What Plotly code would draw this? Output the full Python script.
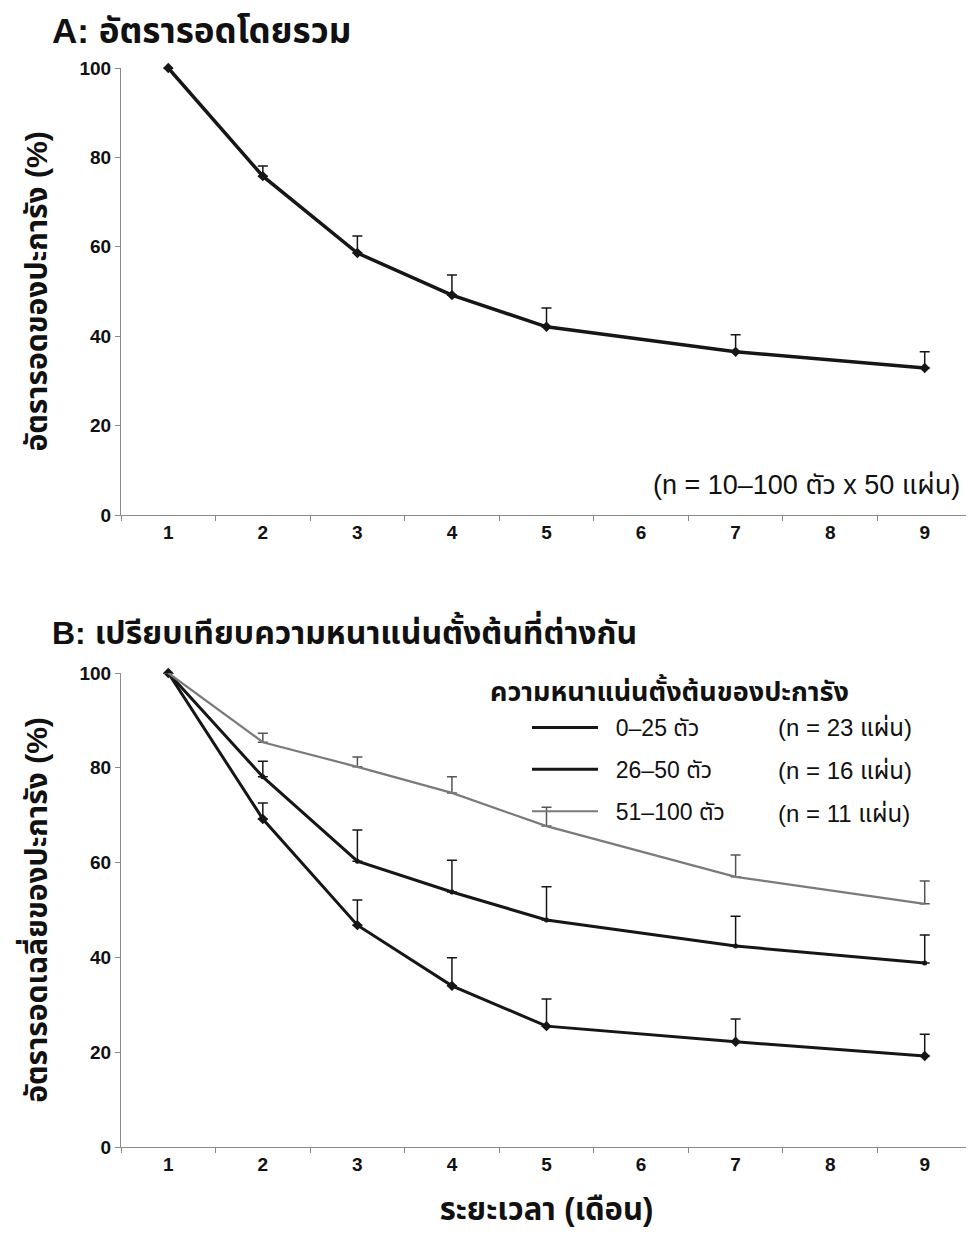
import plotly.graph_objects as go

months = ["1", "2", "3", "4", "5", "6", "7", "8", "9"]
obs_months = ["1", "2", "3", "4", "5", "7", "9"]

# Panel A: overall survival
overall = [100, 75.8, 58.6, 49.2, 42.1, 36.5, 32.9]
overall_err = [0, 2.3, 3.8, 4.5, 4.2, 3.8, 3.6]

# Panel B: by initial density
dens_names = ["0–25 ตัว", "26–50 ตัว", "51–100 ตัว"]
dens_n = ["(n = 23 แผ่น)", "(n = 16 แผ่น)", "(n = 11 แผ่น)"]
d_low = [100, 69.2, 46.8, 34.0, 25.5, 22.2, 19.2]
d_low_err = [0, 3.4, 5.3, 5.9, 5.7, 4.8, 4.6]
d_mid = [100, 78.1, 60.3, 53.8, 47.9, 42.4, 38.8]
d_mid_err = [0, 3.3, 6.6, 6.7, 7.0, 6.3, 5.9]
d_high = [100, 85.4, 80.2, 74.7, 67.7, 57.0, 51.3]
d_high_err = [0, 1.9, 2.1, 3.4, 4.0, 4.6, 4.8]

FONT = "Liberation Sans, Arial, Noto Sans Thai, Loma, Garuda, sans-serif"
DARK = "#161616"
GREY = "#7a7a7a"

# page has an 8px body margin; figure sized to fit the window
OFF = 8
W, H = 974 - OFF, 1246 - OFF


def px(x):
    return (x - OFF) / W


def py(y):
    return 1 - (y - OFF) / H


fig = go.Figure()


def err(vals, color, thick=1.5):
    return dict(type="data", array=vals, arrayminus=[0] * len(vals), symmetric=False,
                color=color, thickness=thick, width=5)


# Panel A
fig.add_trace(go.Scatter(x=obs_months, y=overall, mode="lines+markers", xaxis="x", yaxis="y",
                         line=dict(color=DARK, width=3.5), marker=dict(symbol="diamond", size=8, color=DARK),
                         error_y=err(overall_err, DARK), showlegend=False, cliponaxis=False))

# Panel B
series = [(d_low, d_low_err, DARK, 3, "diamond", 8),
          (d_mid, d_mid_err, DARK, 3, "circle", 5),
          (d_high, d_high_err, GREY, 2.2, None, 0)]
for i, (vals, e, col, w, sym, ms) in enumerate(series):
    fig.add_trace(go.Scatter(x=obs_months, y=vals, mode="lines", xaxis="x2", yaxis="y2",
                             name="\u00a0\u00a0" + dens_names[i], legendgroup="g%d" % i,
                             line=dict(color=col, width=w), error_y=err(e, DARK if i < 2 else "#555", 1.5),
                             cliponaxis=False, showlegend=True))
    if sym:
        fig.add_trace(go.Scatter(x=obs_months, y=vals, mode="markers", xaxis="x2", yaxis="y2",
                                 marker=dict(symbol=sym, size=ms, color=col), showlegend=False,
                                 legendgroup="g%d" % i, cliponaxis=False))

xdom = [px(121), min(1.0, px(972))]
axis_common = dict(showline=True, linecolor="#8a8a8a", linewidth=1.2, ticks="outside",
                   tickcolor="#8a8a8a", ticklen=5, showgrid=False, zeroline=False,
                   tickfont=dict(family=FONT, size=19, color="#111", weight="bold"))
xcommon = dict(axis_common, type="category", categoryorder="array", categoryarray=months,
               tickson="boundaries", range=[-0.5, 8.5], domain=xdom, automargin=False)
ytitle_font = dict(family=FONT, size=30, weight="bold", color="#111")

fig.update_layout(
    width=W, height=H, margin=dict(l=0, r=0, t=0, b=0),
    paper_bgcolor="white", plot_bgcolor="white",
    font=dict(family=FONT, color="#111"),
    xaxis=dict(xcommon, anchor="y"),
    yaxis=dict(axis_common, range=[0, 100], tickvals=[0, 20, 40, 60, 80, 100],
               domain=[py(515), py(68)], anchor="x", automargin=False,
               title=dict(text="อัตรารอดของปะการัง (%)", standoff=22, font=ytitle_font)),
    xaxis2=dict(xcommon, anchor="y2",
                title=dict(text="ระยะเวลา (เดือน)", standoff=24, font=dict(ytitle_font, size=31))),
    yaxis2=dict(axis_common, range=[0, 100], tickvals=[0, 20, 40, 60, 80, 100],
                domain=[py(1147), py(673)], anchor="x2", automargin=False,
                title=dict(text="อัตรารอดเฉลี่ยของปะการัง (%)", standoff=22, font=ytitle_font)),
    legend=dict(x=px(527), y=py(706), xanchor="left", yanchor="top",
                font=dict(family=FONT, size=23, color="#111"), itemwidth=66,
                tracegroupgap=9, bgcolor="rgba(0,0,0,0)", traceorder="grouped"),
    annotations=[
        dict(text="<b>A:</b> <b>อัตรารอดโดยรวม</b>", x=px(50), y=py(30), xref="paper", yref="paper",
             xanchor="left", yanchor="middle", showarrow=False, font=dict(family=FONT, size=35, color="#111")),
        dict(text="<b>B:</b> <b>เปรียบเทียบความหนาแน่นตั้งต้นที่ต่างกัน</b>", x=px(50), y=py(630),
             xref="paper", yref="paper", xanchor="left", yanchor="middle", showarrow=False,
             font=dict(family=FONT, size=32, color="#111")),
        dict(text="(n = 10–100 ตัว x 50 แผ่น)", x=px(962), y=py(485), xref="paper", yref="paper",
             xanchor="right", yanchor="middle", showarrow=False, font=dict(family=FONT, size=27, color="#111")),
        dict(text="<b>ความหนาแน่นตั้งต้นของปะการัง</b>", x=px(488), y=py(690), xref="paper", yref="paper",
             xanchor="left", yanchor="middle", showarrow=False, font=dict(family=FONT, size=27, color="#111")),
    ] + [
        dict(text=dens_n[i], x=px(776), y=py(727 + 43 * i), xref="paper", yref="paper",
             xanchor="left", yanchor="middle", showarrow=False, font=dict(family=FONT, size=24, color="#111"))
        for i in range(3)
    ],
)

fig.write_html("out.html")
